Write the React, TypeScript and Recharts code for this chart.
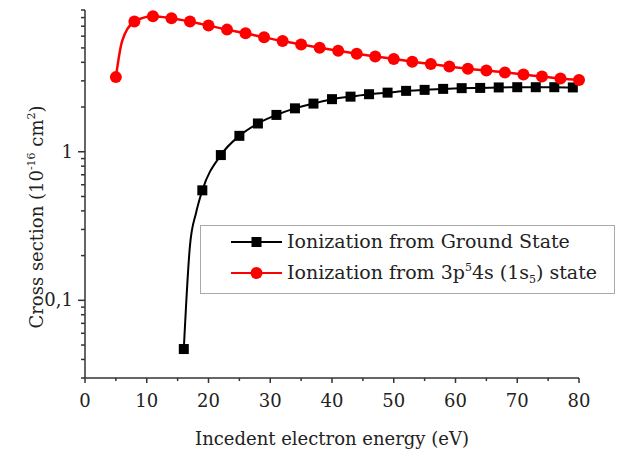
import { LineChart, Line, XAxis, YAxis } from "recharts";

const FONT = "'DejaVu Serif', serif";
const RED = "#ff0000";
const BLACK = "#000000";
const AXIS = "#333333";

// incident energy (eV) and cross section (1e-16 cm^2)
const groundX = [16, 17, 18, 19, 22, 25, 28, 31, 34, 37, 40, 43, 46, 49, 52, 55, 58, 61, 64, 67, 70, 73, 76, 79];
const groundY = [0.047, 0.234, 0.39, 0.55, 0.95, 1.28, 1.55, 1.77, 1.96, 2.11, 2.26, 2.35, 2.44, 2.5, 2.57, 2.61, 2.65, 2.68, 2.69, 2.71, 2.72, 2.72, 2.72, 2.71];

const excitedX = [5, 6, 8, 11, 14, 17, 20, 23, 26, 29, 32, 35, 38, 41, 44, 47, 50, 53, 56, 59, 62, 65, 68, 71, 74, 77, 80];
const excitedY = [3.18, 5.54, 7.52, 8.17, 7.92, 7.52, 7.07, 6.64, 6.27, 5.89, 5.57, 5.28, 5.02, 4.79, 4.57, 4.38, 4.21, 4.04, 3.9, 3.75, 3.62, 3.53, 3.42, 3.31, 3.21, 3.11, 3.04];

const xMajorTicks = [0, 10, 20, 30, 40, 50, 60, 70, 80];
const xMinorTicks = [5, 15, 25, 35, 45, 55, 65, 75];
const yMajorTicks = [0.1, 1];
const yMinorTicks = [0.03, 0.04, 0.05, 0.06, 0.07, 0.08, 0.09, 0.2, 0.3, 0.4, 0.5, 0.6, 0.7, 0.8, 0.9, 2, 3, 4, 5, 6, 7, 8, 9];

const groundData = groundX.map((x, i) => ({ x, y: groundY[i] }));
const excitedData = excitedX.map((x, i) => ({ x, y: excitedY[i] }));

// symbols are only drawn on every third eV
const SquareDot = (props: any) => {
  const { cx, cy, payload, index } = props;
  if ((payload.x - groundX[0]) % 3 !== 0) return <g key={`s${index}`} />;
  return <rect key={`s${index}`} x={cx - 5} y={cy - 5} width={10} height={10} fill={BLACK} />;
};

const CircleDot = (props: any) => {
  const { cx, cy, payload, index } = props;
  if ((payload.x - excitedX[0]) % 3 !== 0) return <g key={`c${index}`} />;
  return <circle key={`c${index}`} cx={cx} cy={cy} r={6} fill={RED} />;
};

const XTick = ({ x, y, payload }: any) => {
  const major = xMajorTicks.includes(payload.value);
  return (
    <g>
      <line x1={x} x2={x} y1={y} y2={y + (major ? 5 : 3)} stroke={AXIS} strokeWidth={1.5} />
      {major && (
        <text x={x} y={y + 29} textAnchor="middle" fontFamily={FONT} fontSize={18} fill="#222">
          {payload.value}
        </text>
      )}
    </g>
  );
};

const YTick = ({ x, y, payload }: any) => {
  const major = yMajorTicks.includes(payload.value);
  return (
    <g>
      <line x1={x} x2={x - (major ? 7 : 4)} y1={y} y2={y} stroke={AXIS} strokeWidth={1.5} />
      {major && (
        <text x={x - 12} y={y + 6} textAnchor="end" fontFamily={FONT} fontSize={18} fill="#222">
          {String(payload.value).replace(".", ",")}
        </text>
      )}
    </g>
  );
};

function LegendBox() {
  return (
    <svg
      width={415}
      height={70}
      style={{ position: "absolute", left: 200, top: 225 }}
    >
      <rect x={0.5} y={0.5} width={414} height={68} fill="#fff" stroke="#aaa" />
      <line x1={31} x2={82} y1={17} y2={17} stroke={BLACK} strokeWidth={2} />
      <rect x={51.5} y={12} width={10} height={10} fill={BLACK} />
      <text x={87} y={23} fontFamily={FONT} fontSize={19} fill="#222">
        Ionization from Ground State
      </text>
      <line x1={31} x2={82} y1={48} y2={48} stroke={RED} strokeWidth={2} />
      <circle cx={56.5} cy={48} r={6} fill={RED} />
      <text x={87} y={54} fontFamily={FONT} fontSize={19} fill="#222">
        Ionization from 3p
        <tspan fontSize={11} dy={-8}>5</tspan>
        <tspan dy={8}>4s (1s</tspan>
        <tspan fontSize={11} dy={4}>5</tspan>
        <tspan dy={-4}>) state</tspan>
      </text>
    </svg>
  );
}

export default function App() {
  return (
    <div style={{ position: "absolute", left: 0, top: 0, width: 621, height: 451, background: "#fff" }}>
      <LineChart
        width={621}
        height={451}
        margin={{ top: 10, right: 42, bottom: 0, left: 0 }}
      >
        <XAxis
          type="number"
          dataKey="x"
          domain={[0, 80]}
          ticks={[...xMajorTicks, ...xMinorTicks].sort((a, b) => a - b)}
          interval={0}
          height={73}
          tickSize={0}
          tickMargin={0}
          tickLine={false}
          tick={<XTick />}
          axisLine={{ stroke: AXIS, strokeWidth: 1.5 }}
        />
        <YAxis
          type="number"
          scale="log"
          domain={[0.03, 9]}
          allowDataOverflow
          ticks={[...yMinorTicks, ...yMajorTicks].sort((a, b) => a - b)}
          interval={0}
          width={85}
          tickSize={0}
          tickMargin={0}
          tickLine={false}
          tick={<YTick />}
          axisLine={{ stroke: AXIS, strokeWidth: 1.5 }}
        />
        <Line
          data={groundData}
          dataKey="y"
          type="monotone"
          stroke={BLACK}
          strokeWidth={2}
          dot={SquareDot}
          activeDot={false}
          isAnimationActive={false}
        />
        <Line
          data={excitedData}
          dataKey="y"
          type="monotone"
          stroke={RED}
          strokeWidth={2.5}
          dot={CircleDot}
          activeDot={false}
          isAnimationActive={false}
        />
      </LineChart>
      <svg width={621} height={451} style={{ position: "absolute", left: 0, top: 0, pointerEvents: "none" }}>
        <text x={332} y={445} textAnchor="middle" fontFamily={FONT} fontSize={18} fill="#222">
          Incedent electron energy (eV)
        </text>
        <text
          transform="translate(43, 217) rotate(-90)"
          textAnchor="middle"
          fontFamily={FONT}
          fontSize={18}
          fill="#222"
        >
          Cross section (10
          <tspan fontSize={11} dy={-8}>-16</tspan>
          <tspan dy={8}> cm</tspan>
          <tspan fontSize={11} dy={-8}>2</tspan>
          <tspan dy={8}>)</tspan>
        </text>
      </svg>
      <LegendBox />
    </div>
  );
}
